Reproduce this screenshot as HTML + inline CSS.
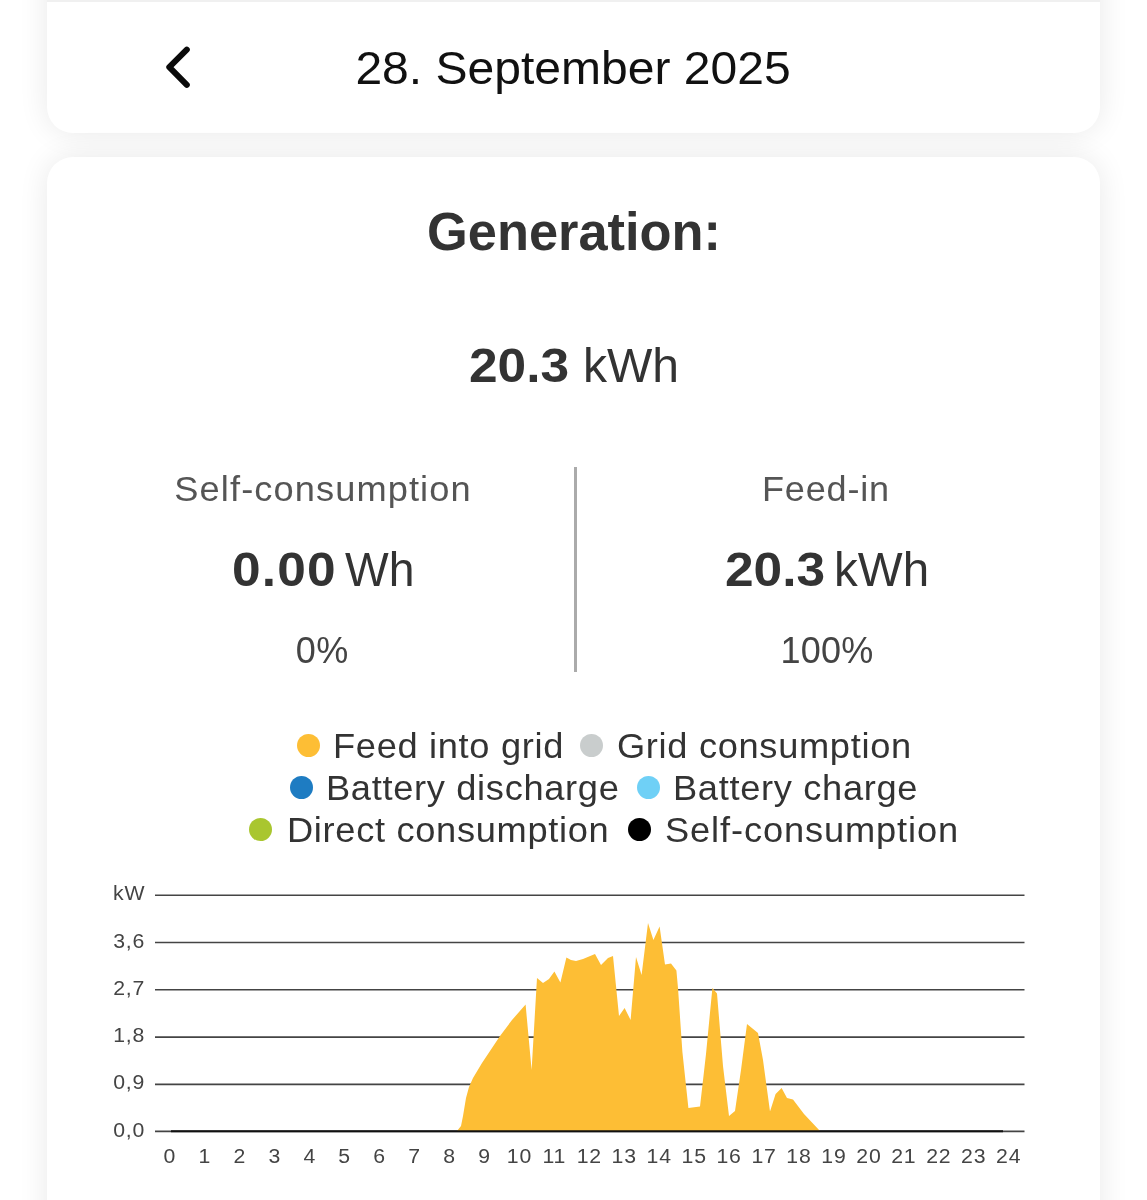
<!DOCTYPE html>
<html lang="en">
<head>
<meta charset="utf-8">
<title>Generation</title>
<style>
html,body{margin:0;padding:0;background:#fff;}
body{width:1147px;height:1200px;position:relative;overflow:hidden;font-family:"Liberation Sans",sans-serif;color:#333;}
.card{position:absolute;left:47px;width:1053px;background:#fff;border-radius:26px;box-shadow:0 0 30px rgba(0,0,0,0.09);}
#c1{top:-60px;height:193px;}
#c2{top:157px;height:1200px;}
.topstrip{position:absolute;left:47px;top:0;width:1053px;height:2px;background:#f0f0f0;}
.t{position:absolute;white-space:nowrap;line-height:1;}
.c{transform:translateX(-50%) scaleX(var(--k,1));}
.l{transform-origin:0 50%;transform:scaleX(var(--k,1));}
#date{left:573px;top:44.6px;font-size:46px;color:#111;--k:1.044;}
#gen{left:573.8px;top:205.2px;font-size:53px;font-weight:bold;color:#333;--k:0.988;}
.lab{font-size:35px;color:#555;}
.big{font-size:49px;color:#333;}
.b{font-weight:bold;--k:1.05;letter-spacing:0px;}
.pct{font-size:36px;color:#444;}
#divider{position:absolute;left:574px;top:467px;width:3px;height:205px;background:#ababab;}
.dot{position:absolute;width:23px;height:23px;border-radius:50%;}
.lg{font-size:35px;color:#333;--k:1.035;letter-spacing:0.66px;}
svg{position:absolute;left:0;top:0;}
</style>
</head>
<body>
<div class="card" id="c1"></div>
<div class="card" id="c2"></div>
<div class="topstrip"></div>

<svg width="1147" height="140" viewBox="0 0 1147 140">
<path d="M186.8 49.6 L169.3 67.2 L186.8 84.8" fill="none" stroke="#0a0a0a" stroke-width="6" stroke-linecap="round" stroke-linejoin="round"/>
</svg>
<div class="t c" id="date">28. September 2025</div>

<div class="t c" id="gen">Generation:</div>
<div class="t l big b" id="tb" style="left:469px;top:341.2px;letter-spacing:0px;">20.3</div>
<div class="t l big" id="tu" style="left:583px;top:341.2px;--k:0.98;">kWh</div>

<div class="t c lab" style="left:322.5px;top:471.4px;--k:1.035;letter-spacing:1.05px;">Self-consumption</div>
<div class="t l big b" id="v1b" style="left:232px;top:545.2px;letter-spacing:1.1px;">0.00</div>
<div class="t l big" id="v1u" style="left:344.7px;top:545.2px;--k:0.945;">Wh</div>
<div class="t c pct" style="left:322.3px;top:632.8px;--k:1;letter-spacing:0.5px;">0%</div>
<div id="divider"></div>
<div class="t c lab" style="left:826.3px;top:471.4px;--k:1.03;letter-spacing:0.8px;">Feed-in</div>
<div class="t l big b" id="v2b" style="left:725px;top:545.2px;letter-spacing:0px;">20.3</div>
<div class="t l big" id="v2u" style="left:833.6px;top:545.2px;--k:0.97;">kWh</div>
<div class="t c pct" style="left:827px;top:632.8px;--k:1;letter-spacing:0.2px;">100%</div>

<div class="dot" style="left:297px;top:733.8px;background:#fdbe35;"></div>
<div class="t l lg" style="left:332.5px;top:728.4px;">Feed into grid</div>
<div class="dot" style="left:580px;top:733.8px;background:#c9cdcd;"></div>
<div class="t l lg" style="left:617px;top:728.4px;">Grid consumption</div>

<div class="dot" style="left:290px;top:775.8px;background:#1e7cc2;"></div>
<div class="t l lg" style="left:325.7px;top:769.8px;">Battery discharge</div>
<div class="dot" style="left:637px;top:775.8px;background:#6fd0f6;"></div>
<div class="t l lg" style="left:673.4px;top:769.8px;">Battery charge</div>

<div class="dot" style="left:249px;top:817.8px;background:#a9c62f;"></div>
<div class="t l lg" style="left:286.6px;top:812px;">Direct consumption</div>
<div class="dot" style="left:628px;top:817.8px;background:#000;"></div>
<div class="t l lg" style="left:665px;top:812px;letter-spacing:0.85px;">Self-consumption</div>

<svg width="1147" height="1200" viewBox="0 0 1147 1200" font-family="Liberation Sans, sans-serif">
<g stroke="#444" stroke-width="1.6">
<line x1="155" x2="1024.5" y1="895.2" y2="895.2"/>
<line x1="155" x2="1024.5" y1="942.5" y2="942.5"/>
<line x1="155" x2="1024.5" y1="989.8" y2="989.8"/>
<line x1="155" x2="1024.5" y1="1037.1" y2="1037.1"/>
<line x1="155" x2="1024.5" y1="1084.4" y2="1084.4"/>
<line x1="155" x2="1024.5" y1="1131.4" y2="1131.4"/>
</g>
<polygon fill="#fdbe35" points="457,1131 461,1126 463,1116 466,1098 469,1087 473,1078 482,1063 500,1036 512,1020 525.6,1004.6 531.6,1070 537,978 543,983 549,979 554.4,971.6 560.4,982.4 566.4,957.6 571,960 576,961 583,959 595,954 601,965 608,958 613,956 619,1016 624.6,1008 630.6,1020 636,957 641.6,975 648,923 653.4,940 659.6,926.4 665,964.4 671,963.6 676.4,970.4 678,988 682.4,1052 688.4,1108 700,1106.6 706,1054 712.4,988 717,993.6 723,1066 729,1116 735,1111 741,1070 747,1024 758,1033 763,1060 770,1111.6 775.6,1094 781.6,1088 787,1098 793,1099.6 804,1114 820,1131"/>
<line x1="171" x2="1003" y1="1131.2" y2="1131.2" stroke="#111" stroke-width="2.1"/>
<g font-size="19.5" fill="#444" text-anchor="end" letter-spacing="0.8" transform="scale(1.09 1)">
<text x="133.30" y="900.4">kW</text>
<text x="133.30" y="947.6">3,6</text>
<text x="133.30" y="994.9">2,7</text>
<text x="133.30" y="1042.2">1,8</text>
<text x="133.30" y="1089.5">0,9</text>
<text x="133.30" y="1136.6">0,0</text>
</g>
<g font-size="19.5" fill="#444" text-anchor="middle" letter-spacing="0.8" transform="scale(1.09 1)">
<text x="155.90" y="1162.6">0</text>
<text x="187.97" y="1162.6">1</text>
<text x="220.03" y="1162.6">2</text>
<text x="252.10" y="1162.6">3</text>
<text x="284.16" y="1162.6">4</text>
<text x="316.23" y="1162.6">5</text>
<text x="348.29" y="1162.6">6</text>
<text x="380.35" y="1162.6">7</text>
<text x="412.42" y="1162.6">8</text>
<text x="444.48" y="1162.6">9</text>
<text x="476.55" y="1162.6">10</text>
<text x="508.61" y="1162.6">11</text>
<text x="540.68" y="1162.6">12</text>
<text x="572.74" y="1162.6">13</text>
<text x="604.80" y="1162.6">14</text>
<text x="636.87" y="1162.6">15</text>
<text x="668.93" y="1162.6">16</text>
<text x="701.00" y="1162.6">17</text>
<text x="733.06" y="1162.6">18</text>
<text x="765.12" y="1162.6">19</text>
<text x="797.19" y="1162.6">20</text>
<text x="829.25" y="1162.6">21</text>
<text x="861.32" y="1162.6">22</text>
<text x="893.38" y="1162.6">23</text>
<text x="925.45" y="1162.6">24</text>
</g>
</svg>
</body>
</html>
